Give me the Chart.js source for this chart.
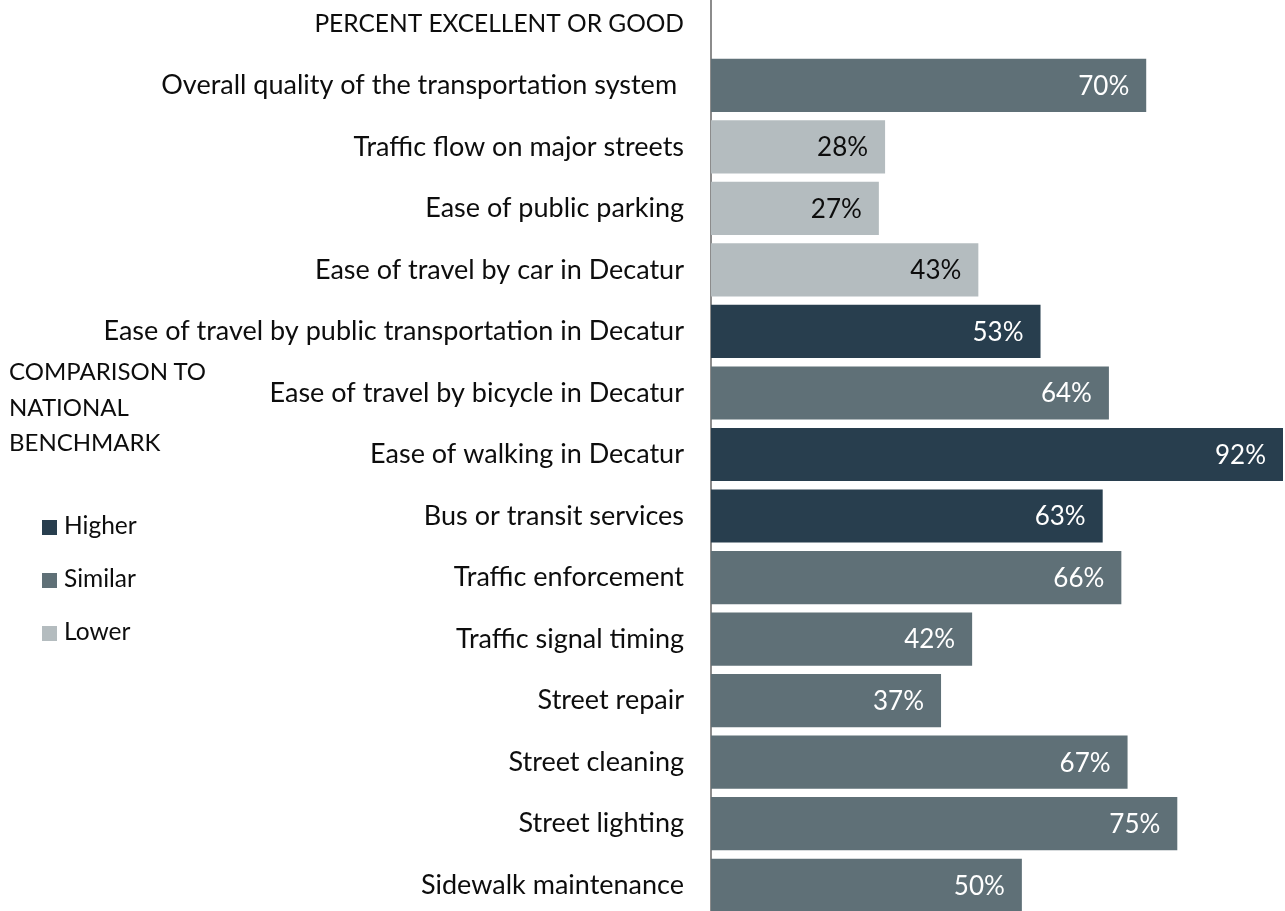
<!DOCTYPE html>
<html>
<head>
<meta charset="utf-8">
<script src="https://cdn.jsdelivr.net/npm/chart.js@4.4.0/dist/chart.umd.min.js"></script>
<style>
  body { margin: 0; background: #fff; overflow: hidden; width: 1285px; height: 911px; position: relative; font-family: Lato, sans-serif; }
  .wrap { position: absolute; left: 0; top: -7px; width: 1285px; height: 923px; }
  .legend-title { position: absolute; left: 9px; top: 353px; font-size: 24px; line-height: 35.5px; color: #0d0d0d; }
  .legend-item { position: absolute; left: 42px; font-size: 24.5px; color: #0d0d0d; height: 30px; line-height: 30px; }
  .legend-item span { display: inline-block; width: 15px; height: 15px; margin-right: 7px; vertical-align: -1px; }
</style>
</head>
<body>
<div class="wrap"><canvas id="myChart"></canvas></div>
<div class="legend-title">COMPARISON TO<br>NATIONAL<br>BENCHMARK</div>
<div id="legend"></div>
<script>
const categories = [
  'PERCENT EXCELLENT OR GOOD',
  'Overall quality of the transportation system ',
  'Traffic flow on major streets',
  'Ease of public parking',
  'Ease of travel by car in Decatur',
  'Ease of travel by public transportation in Decatur',
  'Ease of travel by bicycle in Decatur',
  'Ease of walking in Decatur',
  'Bus or transit services',
  'Traffic enforcement',
  'Traffic signal timing',
  'Street repair',
  'Street cleaning',
  'Street lighting',
  'Sidewalk maintenance'
]
const values = [null, 70, 28, 27, 43, 53, 64, 92, 63, 66, 42, 37, 67, 75, 50]
const benchmark = ['', 'Similar', 'Lower', 'Lower', 'Lower', 'Higher', 'Similar', 'Higher', 'Higher',
  'Similar', 'Similar', 'Similar', 'Similar', 'Similar', 'Similar']
const legendLabels = ['Higher', 'Similar', 'Lower']

const colors = {Higher: '#283e4e', Similar: '#5f7077', Lower: '#b4bcbf', '': '#ffffff'}
const labelColors = {Higher: '#ffffff', Similar: '#ffffff', Lower: '#0d0d0d', '': '#0d0d0d'}
const FONT = 'Lato'

// legend on the left
const legendTops = [510, 563, 616]
const legendDiv = document.getElementById('legend')
legendLabels.forEach((name, i) => {
  const d = document.createElement('div')
  d.className = 'legend-item'
  d.style.top = legendTops[i] + 'px'
  d.innerHTML = '<span style="background:' + colors[name] + '"></span>' + name
  legendDiv.appendChild(d)
})

// value labels drawn inside the end of each bar
const valueLabels = {
  id: 'valueLabels',
  afterDatasetsDraw(chart) {
    const ctx = chart.ctx
    const meta = chart.getDatasetMeta(0)
    ctx.save()
    ctx.font = '26px ' + FONT
    ctx.textAlign = 'right'
    ctx.textBaseline = 'middle'
    meta.data.forEach((bar, i) => {
      if (values[i] === null) return
      ctx.fillStyle = labelColors[benchmark[i]]
      ctx.fillText(values[i] + '%', bar.x - 17, bar.y + 1)
    })
    ctx.restore()
  }
}

const ctx = document.getElementById('myChart')
new Chart(ctx, {
  type: 'bar',
  data: {
    labels: categories,
    datasets: [{
      data: values,
      backgroundColor: benchmark.map(b => colors[b]),
      borderWidth: 0,
      categoryPercentage: 1,
      barPercentage: 0.864
    }]
  },
  options: {
    indexAxis: 'y',
    responsive: true,
    maintainAspectRatio: false,
    animation: false,
    layout: { padding: { left: 0, right: 2, top: 0, bottom: 0 } },
    plugins: {
      legend: { display: false },
      tooltip: { enabled: false }
    },
    scales: {
      x: {
        display: false,
        min: 0,
        max: 92
      },
      y: {
        z: 1,
        grid: { display: false, drawTicks: false },
        border: { display: true, color: '#8c8c8c', width: 2 },
        ticks: {
          autoSkip: false,
          padding: 27,
          color: '#0d0d0d',
          font: (c) => ({ family: FONT, size: c.index === 0 ? 24.5 : 27 })
        },
        afterFit(scale) {
          scale.width = 711
          scale.paddingTop = 0
          scale.paddingBottom = 0
        }
      }
    }
  },
  plugins: [valueLabels]
})
</script>
</body>
</html>
